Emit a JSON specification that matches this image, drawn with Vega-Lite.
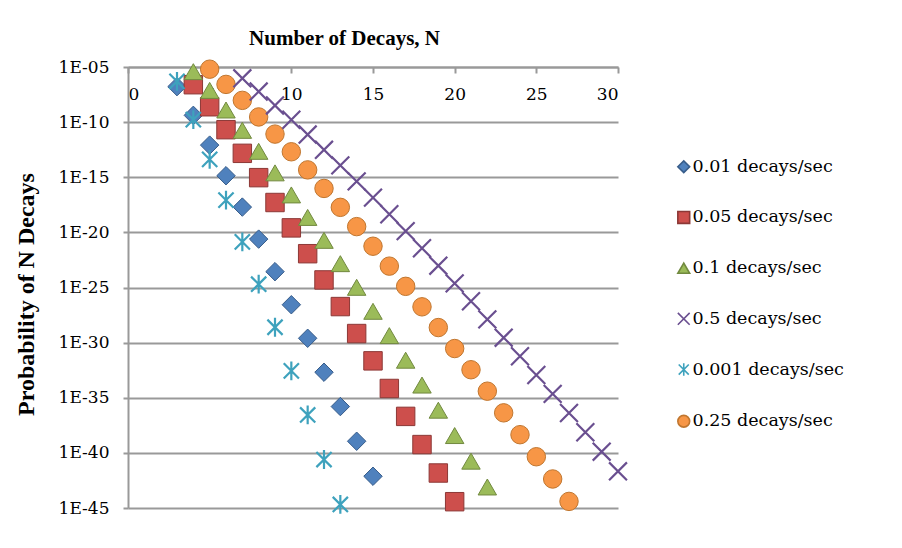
{
  "$schema": "https://vega.github.io/schema/vega-lite/v6.json",
  "autosize": "none",
  "width": 490,
  "height": 441,
  "padding": {"left": 128, "top": 67, "right": 284, "bottom": 40},
  "background": "white",
  "config": {
    "view": {"stroke": null},
    "axis": {
      "labelFont": "DejaVu Serif",
      "labelFontSize": 17,
      "labelColor": "#000000",
      "domainColor": "#999999",
      "domainWidth": 2,
      "tickColor": "#999999",
      "tickWidth": 2,
      "gridColor": "#999999",
      "gridWidth": 2
    },
    "legend": {
      "orient": "none",
      "legendX": 547,
      "legendY": 91,
      "padding": 0,
      "rowPadding": 31.7,
      "labelFont": "DejaVu Serif",
      "labelFontSize": 17.5,
      "labelColor": "#000000",
      "labelOffset": 0,
      "symbolSize": 140,
      "symbolStrokeWidth": 1.6,
      "title": null
    }
  },
  "data": {
    "values": [
      {"series": "0.01 decays/sec", "n": 3, "p": 1.65e-7},
      {"series": "0.01 decays/sec", "n": 4, "p": 4.126e-10},
      {"series": "0.01 decays/sec", "n": 5, "p": 8.25e-13},
      {"series": "0.01 decays/sec", "n": 6, "p": 1.375e-15},
      {"series": "0.01 decays/sec", "n": 7, "p": 1.965e-18},
      {"series": "0.01 decays/sec", "n": 8, "p": 2.456e-21},
      {"series": "0.01 decays/sec", "n": 9, "p": 2.729e-24},
      {"series": "0.01 decays/sec", "n": 10, "p": 2.729e-27},
      {"series": "0.01 decays/sec", "n": 11, "p": 2.481e-30},
      {"series": "0.01 decays/sec", "n": 12, "p": 2.067e-33},
      {"series": "0.01 decays/sec", "n": 13, "p": 1.59e-36},
      {"series": "0.01 decays/sec", "n": 14, "p": 1.136e-39},
      {"series": "0.01 decays/sec", "n": 15, "p": 7.57e-43},
      {"series": "0.05 decays/sec", "n": 4, "p": 2.477e-7},
      {"series": "0.05 decays/sec", "n": 5, "p": 2.477e-9},
      {"series": "0.05 decays/sec", "n": 6, "p": 2.064e-11},
      {"series": "0.05 decays/sec", "n": 7, "p": 1.474e-13},
      {"series": "0.05 decays/sec", "n": 8, "p": 9.21e-16},
      {"series": "0.05 decays/sec", "n": 9, "p": 5.118e-18},
      {"series": "0.05 decays/sec", "n": 10, "p": 2.559e-20},
      {"series": "0.05 decays/sec", "n": 11, "p": 1.163e-22},
      {"series": "0.05 decays/sec", "n": 12, "p": 4.847e-25},
      {"series": "0.05 decays/sec", "n": 13, "p": 1.864e-27},
      {"series": "0.05 decays/sec", "n": 14, "p": 6.658e-30},
      {"series": "0.05 decays/sec", "n": 15, "p": 2.219e-32},
      {"series": "0.05 decays/sec", "n": 16, "p": 6.935e-35},
      {"series": "0.05 decays/sec", "n": 17, "p": 2.04e-37},
      {"series": "0.05 decays/sec", "n": 18, "p": 5.666e-40},
      {"series": "0.05 decays/sec", "n": 19, "p": 1.491e-42},
      {"series": "0.05 decays/sec", "n": 20, "p": 3.728e-45},
      {"series": "0.1 decays/sec", "n": 4, "p": 3.77e-6},
      {"series": "0.1 decays/sec", "n": 5, "p": 7.54e-8},
      {"series": "0.1 decays/sec", "n": 6, "p": 1.257e-9},
      {"series": "0.1 decays/sec", "n": 7, "p": 1.795e-11},
      {"series": "0.1 decays/sec", "n": 8, "p": 2.244e-13},
      {"series": "0.1 decays/sec", "n": 9, "p": 2.494e-15},
      {"series": "0.1 decays/sec", "n": 10, "p": 2.494e-17},
      {"series": "0.1 decays/sec", "n": 11, "p": 2.267e-19},
      {"series": "0.1 decays/sec", "n": 12, "p": 1.889e-21},
      {"series": "0.1 decays/sec", "n": 13, "p": 1.453e-23},
      {"series": "0.1 decays/sec", "n": 14, "p": 1.038e-25},
      {"series": "0.1 decays/sec", "n": 15, "p": 6.92e-28},
      {"series": "0.1 decays/sec", "n": 16, "p": 4.325e-30},
      {"series": "0.1 decays/sec", "n": 17, "p": 2.544e-32},
      {"series": "0.1 decays/sec", "n": 18, "p": 1.413e-34},
      {"series": "0.1 decays/sec", "n": 19, "p": 7.437e-37},
      {"series": "0.1 decays/sec", "n": 20, "p": 3.719e-39},
      {"series": "0.1 decays/sec", "n": 21, "p": 1.771e-41},
      {"series": "0.1 decays/sec", "n": 22, "p": 8.05e-44},
      {"series": "0.5 decays/sec", "n": 7, "p": 9.402e-7},
      {"series": "0.5 decays/sec", "n": 8, "p": 5.876e-8},
      {"series": "0.5 decays/sec", "n": 9, "p": 3.265e-9},
      {"series": "0.5 decays/sec", "n": 10, "p": 1.632e-10},
      {"series": "0.5 decays/sec", "n": 11, "p": 7.419e-12},
      {"series": "0.5 decays/sec", "n": 12, "p": 3.091e-13},
      {"series": "0.5 decays/sec", "n": 13, "p": 1.189e-14},
      {"series": "0.5 decays/sec", "n": 14, "p": 4.246e-16},
      {"series": "0.5 decays/sec", "n": 15, "p": 1.415e-17},
      {"series": "0.5 decays/sec", "n": 16, "p": 4.423e-19},
      {"series": "0.5 decays/sec", "n": 17, "p": 1.301e-20},
      {"series": "0.5 decays/sec", "n": 18, "p": 3.614e-22},
      {"series": "0.5 decays/sec", "n": 19, "p": 9.51e-24},
      {"series": "0.5 decays/sec", "n": 20, "p": 2.378e-25},
      {"series": "0.5 decays/sec", "n": 21, "p": 5.661e-27},
      {"series": "0.5 decays/sec", "n": 22, "p": 1.287e-28},
      {"series": "0.5 decays/sec", "n": 23, "p": 2.797e-30},
      {"series": "0.5 decays/sec", "n": 24, "p": 5.827e-32},
      {"series": "0.5 decays/sec", "n": 25, "p": 1.165e-33},
      {"series": "0.5 decays/sec", "n": 26, "p": 2.241e-35},
      {"series": "0.5 decays/sec", "n": 27, "p": 4.15e-37},
      {"series": "0.5 decays/sec", "n": 28, "p": 7.41e-39},
      {"series": "0.5 decays/sec", "n": 29, "p": 1.278e-40},
      {"series": "0.5 decays/sec", "n": 30, "p": 2.13e-42},
      {"series": "0.001 decays/sec", "n": 3, "p": 4.995e-7},
      {"series": "0.001 decays/sec", "n": 4, "p": 1.665e-10},
      {"series": "0.001 decays/sec", "n": 5, "p": 4.163e-14},
      {"series": "0.001 decays/sec", "n": 6, "p": 8.325e-18},
      {"series": "0.001 decays/sec", "n": 7, "p": 1.388e-21},
      {"series": "0.001 decays/sec", "n": 8, "p": 1.982e-25},
      {"series": "0.001 decays/sec", "n": 9, "p": 2.478e-29},
      {"series": "0.001 decays/sec", "n": 10, "p": 2.753e-33},
      {"series": "0.001 decays/sec", "n": 11, "p": 2.753e-37},
      {"series": "0.001 decays/sec", "n": 12, "p": 2.503e-41},
      {"series": "0.001 decays/sec", "n": 13, "p": 2.085e-45},
      {"series": "0.25 decays/sec", "n": 5, "p": 6.338e-6},
      {"series": "0.25 decays/sec", "n": 6, "p": 2.641e-7},
      {"series": "0.25 decays/sec", "n": 7, "p": 9.432e-9},
      {"series": "0.25 decays/sec", "n": 8, "p": 2.948e-10},
      {"series": "0.25 decays/sec", "n": 9, "p": 8.188e-12},
      {"series": "0.25 decays/sec", "n": 10, "p": 2.047e-13},
      {"series": "0.25 decays/sec", "n": 11, "p": 4.652e-15},
      {"series": "0.25 decays/sec", "n": 12, "p": 9.691e-17},
      {"series": "0.25 decays/sec", "n": 13, "p": 1.864e-18},
      {"series": "0.25 decays/sec", "n": 14, "p": 3.328e-20},
      {"series": "0.25 decays/sec", "n": 15, "p": 5.547e-22},
      {"series": "0.25 decays/sec", "n": 16, "p": 8.667e-24},
      {"series": "0.25 decays/sec", "n": 17, "p": 1.275e-25},
      {"series": "0.25 decays/sec", "n": 18, "p": 1.77e-27},
      {"series": "0.25 decays/sec", "n": 19, "p": 2.329e-29},
      {"series": "0.25 decays/sec", "n": 20, "p": 2.912e-31},
      {"series": "0.25 decays/sec", "n": 21, "p": 3.466e-33},
      {"series": "0.25 decays/sec", "n": 22, "p": 3.939e-35},
      {"series": "0.25 decays/sec", "n": 23, "p": 4.281e-37},
      {"series": "0.25 decays/sec", "n": 24, "p": 4.46e-39},
      {"series": "0.25 decays/sec", "n": 25, "p": 4.46e-41},
      {"series": "0.25 decays/sec", "n": 26, "p": 4.288e-43},
      {"series": "0.25 decays/sec", "n": 27, "p": 3.97e-45}
    ]
  },
  "encoding": {
    "x": {
      "field": "n",
      "type": "quantitative",
      "scale": {"domain": [0, 30], "nice": false, "zero": false},
      "axis": {
        "orient": "bottom",
        "offset": -441,
        "values": [0, 5, 10, 15, 20, 25, 30],
        "tickSize": 6,
        "labelPadding": 13,
        "grid": false,
        "title": "Number of Decays, N",
        "titleFont": "Liberation Serif",
        "titleFontWeight": "bold",
        "titleFontSize": 21,
        "titleColor": "#000000",
        "titleX": 216,
        "titleY": -23,
        "titleBaseline": "alphabetic",
        "titleAlign": "center"
      }
    },
    "y": {
      "field": "p",
      "type": "quantitative",
      "scale": {"type": "log", "domain": [1e-45, 1e-5], "nice": false},
      "axis": {
        "values": [1e-5, 1e-10, 1e-15, 1e-20, 1e-25, 1e-30, 1e-35, 1e-40, 1e-45],
        "labelExpr": "'1E-' + (round(-log(datum.value)/LN10) < 10 ? '0' : '') + round(-log(datum.value)/LN10)",
        "tickSize": 5,
        "labelPadding": 14,
        "grid": true,
        "title": "Probability of N Decays",
        "titleFont": "Liberation Serif",
        "titleFontWeight": "bold",
        "titleFontSize": 24,
        "titleColor": "#000000",
        "titleAngle": -90,
        "titleX": -95,
        "titleY": 227,
        "titleBaseline": "alphabetic",
        "titleAlign": "center"
      }
    },
    "shape": {
      "field": "series",
      "type": "nominal",
      "scale": {
        "domain": ["0.01 decays/sec", "0.05 decays/sec", "0.1 decays/sec", "0.5 decays/sec", "0.001 decays/sec", "0.25 decays/sec"],
        "range": ["diamond", "square", "triangle-up", "M-1,-1L1,1M-1,1L1,-1", "M-0.85,-0.85L0.85,0.85M-0.85,0.85L0.85,-0.85M0,-1.05L0,1.05", "circle"]
      }
    },
    "fill": {
      "field": "series",
      "type": "nominal",
      "scale": {
        "domain": ["0.01 decays/sec", "0.05 decays/sec", "0.1 decays/sec", "0.5 decays/sec", "0.001 decays/sec", "0.25 decays/sec"],
        "range": ["#4f81bd", "#cd4f4c", "#9bbb59", "#7a5e9e", "#4bacc6", "#f79646"]
      }
    },
    "stroke": {
      "field": "series",
      "type": "nominal",
      "scale": {
        "domain": ["0.01 decays/sec", "0.05 decays/sec", "0.1 decays/sec", "0.5 decays/sec", "0.001 decays/sec", "0.25 decays/sec"],
        "range": ["#385d8a", "#8c3836", "#71893f", "#6a4f90", "#3ea2bd", "#c0762f"]
      }
    }
  },
  "layer": [
    {
      "transform": [{"filter": "datum.series != '0.5 decays/sec' && datum.series != '0.001 decays/sec'"}],
      "mark": {"type": "point", "filled": true, "opacity": 1, "size": 340, "strokeWidth": 1}
    },
    {
      "transform": [{"filter": "datum.series == '0.5 decays/sec' || datum.series == '0.001 decays/sec'"}],
      "mark": {"type": "point", "filled": true, "opacity": 1, "size": 320, "strokeWidth": 2.2}
    }
  ]
}
